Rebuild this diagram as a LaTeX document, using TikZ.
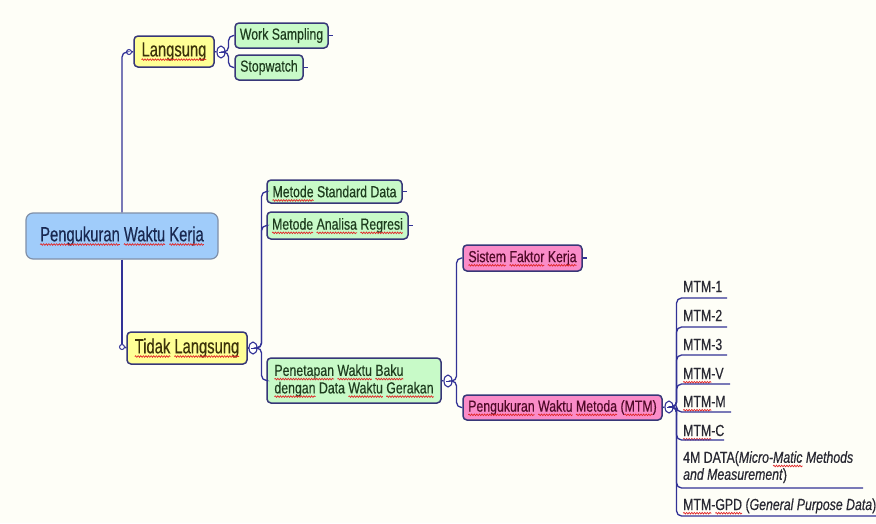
\documentclass[tikz,border=0pt]{standalone}
\usepackage{fontspec}
\usetikzlibrary{decorations.pathmorphing,shapes.geometric}
\setmainfont{Liberation Sans}
\newfontfamily\bigf[FakeStretch=0.72,FakeBold=0.4]{Liberation Sans}
\newfontfamily\smallf[FakeStretch=0.77,FakeBold=0.4]{Liberation Sans}

\definecolor{paper}{RGB}{254,254,247}
\definecolor{boxline}{RGB}{55,55,120}
\definecolor{wire}{RGB}{50,50,150}
\definecolor{rootfill}{RGB}{160,204,250}
\definecolor{rootline}{RGB}{128,144,168}
\definecolor{rootink}{RGB}{25,40,80}
\definecolor{yfill}{RGB}{255,255,150}
\definecolor{yink}{RGB}{60,50,10}
\definecolor{gfill}{RGB}{200,250,200}
\definecolor{gink}{RGB}{30,60,30}
\definecolor{pfill}{RGB}{250,140,200}
\definecolor{pink}{RGB}{80,10,40}
\definecolor{listink}{RGB}{40,40,50}
\definecolor{spell}{RGB}{225,40,40}

% red wavy spelling mark under a word
\newlength\sqw
\newcommand\sq[1]{\settowidth\sqw{#1}\rlap{#1}\tikz[baseline=0pt]{%
  \useasboundingbox (0pt,0pt) rectangle (\sqw,0pt);
  \draw[spell, fill=none, line width=0.7pt, rounded corners=0pt, decorate,
    decoration={snake, amplitude=0.8pt, segment length=2.6pt}]
    (0pt,-3.2pt) -- (\sqw,-3.2pt);}}

\tikzset{
  topic/.style={draw=boxline, line width=1.5pt, rounded corners=4pt, inner sep=0pt},
  rootbox/.style={draw=rootline, fill=rootfill, line width=1.2pt, rounded corners=7pt,
    inner sep=0pt, text=rootink, font=\bigf\fontsize{20.5}{22}\selectfont},
  yellowbox/.style={topic, fill=yfill, text=yink, font=\bigf\fontsize{20.5}{22}\selectfont},
  greenbox/.style={topic, fill=gfill, text=gink, font=\smallf\fontsize{16}{17.5}\selectfont},
  pinkbox/.style={topic, fill=pfill, text=pink, font=\smallf\fontsize{16}{17.5}\selectfont},
  listitem/.style={inner sep=0pt, text=listink, font=\smallf\fontsize{16}{17}\selectfont},
  toggle/.style={ellipse, draw=wire, fill=white, line width=1.1pt, minimum width=8pt,
    minimum height=12pt, inner sep=0pt,
    path picture={\draw[wire, line width=0.9pt]
      ([xshift=-2pt]path picture bounding box.center) --
      ([xshift=2pt]path picture bounding box.center);}},
  joint/.style={circle, draw=wire, fill=white, line width=1pt, minimum size=5pt, inner sep=0pt},
  branch/.style={draw=wire, line width=1.3pt, rounded corners=5pt},
  stub/.style={draw=wire, line width=1.3pt},
}

\begin{document}
\begin{tikzpicture}[x=1pt, y=-1pt]
\fill[paper] (0,0) rectangle (876,523);
\useasboundingbox (0,0) rectangle (876,523);

% central topic
\node[rootbox, minimum width=192pt, minimum height=46pt] (root) at (122,236)
  {\sq{Pengukuran} \sq{Waktu} \sq{Kerja}};

% first level
\node[yellowbox, minimum width=80pt, minimum height=31pt] (lang) at (174,51.5) {\sq{Langsung}};
\node[yellowbox, minimum width=120pt, minimum height=32pt] (tl) at (187,348) {\sq{Tidak} \sq{Langsung}};
\node[joint] (lin) at (129,52) {};
\node[joint] (tin) at (122,347) {};
\node[toggle] (cl) at (221,52) {};
\node[toggle] (ct) at (253,348) {};

% direct measurement
\node[greenbox, minimum width=93pt, minimum height=25pt] (ws) at (281.5,35.5) {Work Sampling};
\node[greenbox, minimum width=68pt, minimum height=25pt] (sw) at (269,67.5) {Stopwatch};

% indirect measurement
\node[greenbox, minimum width=135pt, minimum height=23pt] (msd) at (334.5,191.5) {\sq{Metode} Standard Data};
\node[greenbox, minimum width=141pt, minimum height=27pt] (mar) at (337.5,225.5) {\sq{Metode} \sq{Analisa} \sq{Regresi}};
\node[greenbox, minimum width=174pt, minimum height=45pt, align=left] (pwb) at (354,380.5)
  {\sq{Penetapan} \sq{Waktu} \sq{Baku}\\ \sq{dengan} Data \sq{Waktu} \sq{Gerakan}};
\node[toggle] (cp) at (448,381) {};

% predetermined time systems
\node[pinkbox, minimum width=119pt, minimum height=26pt] (sfk) at (522.5,258) {\sq{Sistem} \sq{Faktor} \sq{Kerja}};
\node[pinkbox, minimum width=199pt, minimum height=25pt] (mtm) at (562.5,407.5)
  {\sq{Pengukuran} \sq{Waktu} \sq{Metoda} (\sq{MTM})};
\node[toggle] (cm) at (669,407) {};

% MTM family, underlined topics
\node[listitem, anchor=base west] (m1) at (683,292) {MTM-1};
\node[listitem, anchor=base west] (m2) at (683,321) {MTM-2};
\node[listitem, anchor=base west] (m3) at (683,350) {MTM-3};
\node[listitem, anchor=base west] (mv) at (683,379) {\sq{MTM}-V};
\node[listitem, anchor=base west] (mm) at (683,407) {\sq{MTM}-M};
\node[listitem, anchor=base west] (mc) at (683,436) {\sq{MTM}-C};
\node[listitem, anchor=north west, align=left] (m4) at (683,451)
  {4M DATA(\textit{Micro-\sq{Matic} Methods}\\ \textit{and Measurement})};
\node[listitem, anchor=base west] (mg) at (683,510) {\sq{MTM}-\sq{GPD} (\textit{General Purpose Data})};

\coordinate (u1) at (727,298);
\coordinate (u2) at (727,327);
\coordinate (u3) at (727,355);
\coordinate (uv) at (730,384);
\coordinate (um) at (731,412);
\coordinate (uc) at (724,440);
\coordinate (u4) at (863,488);
\coordinate (ug) at (876,516);

% connectors
\draw[branch] (root.north) |- (lin.west);
\draw[branch] (root.south) -- (tin.north);
\draw[stub] (lin.east) -- (lang.west);
\draw[stub] (tin.east) -- (tl.west);
\draw[stub] (lang.east) -- (cl.west);
\draw[stub] (tl.east) -- (ct.west);
\draw[stub] (pwb.east) -- (cp.west);
\draw[stub] (mtm.east) -- (cm.west);

\draw[branch] (cl.east) -- ++(3,0) |- (ws.west);
\draw[branch] (cl.east) -- ++(3,0) |- (sw.west);

\draw[branch] (ct.east) -- ++(4,0) |- (msd.west);
\draw[branch] (ct.east) -- ++(4,0) |- (mar.west);
\draw[branch] (ct.east) -- ++(4,0) |- (pwb.west);

\draw[branch] (cp.east) -- ++(4,0) |- (sfk.west);
\draw[branch] (cp.east) -- ++(4,0) |- (mtm.west);

\foreach \u in {u1,u2,u3,uv,um,uc,u4,ug}
  \draw[branch] (cm.east) -- ++(3,0) |- (\u);

% leaf stubs
\foreach \n in {ws,sw,msd,mar,sfk}
  \draw[stub] (\n.east) -- ++(4,0);
\end{tikzpicture}
\end{document}
